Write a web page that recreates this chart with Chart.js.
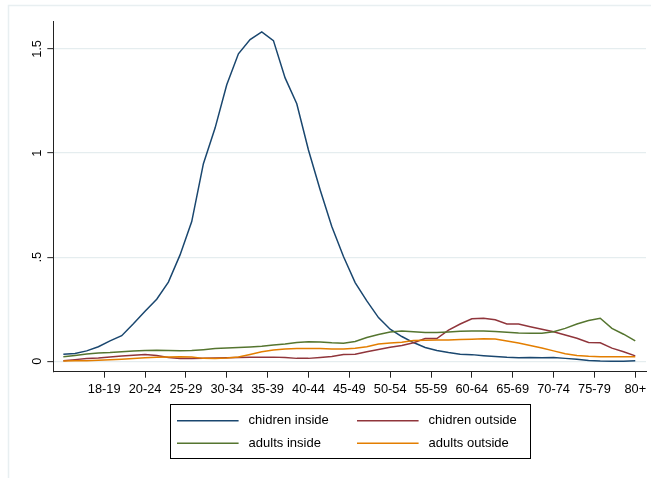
<!DOCTYPE html>
<html>
<head>
<meta charset="utf-8">
<script src="https://cdn.jsdelivr.net/npm/chart.js@4.4.1/dist/chart.umd.min.js"></script>
<style>
  html, body { margin: 0; padding: 0; background: #fff; }
  canvas { display: block; }
</style>
</head>
<body>
<canvas id="chart" width="651" height="478"></canvas>
<script>
// Age-group tick labels and where each group sits on the 0..49 index axis
const ageGroups = ['18-19','20-24','25-29','30-34','35-39','40-44','45-49','50-54','55-59','60-64','65-69','70-74','75-79','80+'];
const groupPositions = [3.5, 7, 10.5, 14, 17.5, 21, 24.5, 28, 31.5, 35, 38.5, 42, 45.5, 49];
const yTickValues = [0, 0.5, 1, 1.5];

const seriesNames = ['chidren inside', 'chidren outside', 'adults inside', 'adults outside'];

const childrenInside = [0.034, 0.037, 0.050, 0.070, 0.098, 0.123, 0.180, 0.240, 0.298, 0.380,
  0.511, 0.671, 0.949, 1.120, 1.328, 1.477, 1.545, 1.582, 1.540, 1.361,
  1.237, 1.015, 0.824, 0.647, 0.503, 0.378, 0.290, 0.210, 0.154, 0.119,
  0.090, 0.066, 0.052, 0.042, 0.034, 0.032, 0.027, 0.023, 0.019, 0.017,
  0.018, 0.017, 0.018, 0.014, 0.010, 0.004, 0.001, 0.000, 0.000, 0.002];

const childrenOutside = [0.003, 0.008, 0.013, 0.016, 0.021, 0.025, 0.029, 0.033, 0.028, 0.018,
  0.013, 0.013, 0.014, 0.016, 0.017, 0.018, 0.019, 0.020, 0.020, 0.018,
  0.014, 0.014, 0.018, 0.023, 0.033, 0.034, 0.046, 0.057, 0.067, 0.076,
  0.089, 0.109, 0.109, 0.150, 0.179, 0.204, 0.207, 0.199, 0.179, 0.179,
  0.166, 0.154, 0.142, 0.126, 0.111, 0.090, 0.089, 0.063, 0.046, 0.026];

const adultsInside = [0.022, 0.028, 0.035, 0.040, 0.042, 0.046, 0.050, 0.052, 0.053, 0.052,
  0.051, 0.052, 0.056, 0.061, 0.064, 0.066, 0.069, 0.072, 0.078, 0.083,
  0.090, 0.094, 0.093, 0.089, 0.087, 0.095, 0.114, 0.129, 0.141, 0.146,
  0.142, 0.138, 0.138, 0.141, 0.144, 0.146, 0.145, 0.143, 0.139, 0.136,
  0.135, 0.135, 0.142, 0.158, 0.179, 0.196, 0.207, 0.158, 0.130, 0.098];

const adultsOutside = [0.001, 0.002, 0.003, 0.005, 0.007, 0.010, 0.013, 0.017, 0.019, 0.021,
  0.022, 0.021, 0.014, 0.013, 0.016, 0.021, 0.033, 0.046, 0.054, 0.059,
  0.061, 0.062, 0.062, 0.059, 0.059, 0.063, 0.070, 0.083, 0.088, 0.091,
  0.100, 0.101, 0.102, 0.102, 0.105, 0.106, 0.108, 0.107, 0.098, 0.088,
  0.076, 0.064, 0.050, 0.036, 0.028, 0.024, 0.022, 0.022, 0.022, 0.022];

const seriesValues = [childrenInside, childrenOutside, adultsInside, adultsOutside];
const seriesColors = ['#1a476f', '#90353b', '#55752f', '#e37e00'];

const FONT = '"Liberation Sans", Arial, Helvetica, sans-serif';
Chart.defaults.font.family = FONT;
Chart.defaults.color = '#000';

const fmtTick = v => String(v).replace(/^0\./, '.');

// Outer frame, rotated y labels and the boxed two-column legend
const stataDecor = {
  id: 'stataDecor',
  beforeDraw(chart) {
    const ctx = chart.ctx;
    ctx.save();
    ctx.strokeStyle = '#e8eff1';
    ctx.lineWidth = 1.5;
    ctx.beginPath();
    ctx.moveTo(8.5, 478);
    ctx.lineTo(8.5, 5.5);
    ctx.lineTo(651, 5.5);
    ctx.stroke();
    ctx.restore();
  },
  afterDraw(chart) {
    const ctx = chart.ctx;
    const ys = chart.scales.y;
    const area = chart.chartArea;
    ctx.save();
    ctx.fillStyle = '#000';
    ctx.font = '12.8px ' + FONT;
    ctx.textAlign = 'center';
    ctx.textBaseline = 'alphabetic';
    ys.ticks.forEach(t => {
      const py = ys.getPixelForValue(t.value);
      ctx.save();
      ctx.translate(area.left - 12, py);
      ctx.rotate(-Math.PI / 2);
      ctx.fillText(fmtTick(t.value), 0, 0);
      ctx.restore();
    });

    // legend
    const boxW = 360, boxH = 54, boxTop = 404.5;
    const boxLeft = Math.round((area.left + area.right) / 2 - boxW / 2) + 0.5;
    ctx.strokeStyle = '#000';
    ctx.lineWidth = 1;
    ctx.strokeRect(boxLeft, boxTop, boxW, boxH);
    ctx.font = '13px ' + FONT;
    ctx.textAlign = 'left';
    ctx.textBaseline = 'middle';
    chart.data.datasets.forEach((ds, i) => {
      const col = i % 2, row = Math.floor(i / 2);
      const x0 = boxLeft + 6.5 + col * 180;
      const yy = 420.7 + row * 22.6;
      ctx.strokeStyle = ds.borderColor;
      ctx.lineWidth = 1.5;
      ctx.beginPath();
      ctx.moveTo(x0, yy);
      ctx.lineTo(x0 + 61.6, yy);
      ctx.stroke();
      ctx.fillStyle = '#000';
      ctx.fillText(ds.label, x0 + 71.6, yy);
    });
    ctx.restore();
  }
};

const datasets = seriesNames.map((name, i) => ({
  label: name,
  data: seriesValues[i].map((v, k) => ({ x: k, y: v })),
  borderColor: seriesColors[i],
  backgroundColor: seriesColors[i],
  borderWidth: 1.5,
  pointRadius: 0,
  tension: 0,
  fill: false,
  order: seriesNames.length - 1 - i
}));

new Chart(document.getElementById('chart'), {
  type: 'line',
  data: { datasets },
  plugins: [stataDecor],
  options: {
    responsive: false,
    animation: false,
    events: [],
    layout: { padding: { left: 0, top: 21.7, right: 5, bottom: 0 } },
    plugins: { legend: { display: false }, tooltip: { enabled: false } },
    scales: {
      x: {
        type: 'linear',
        min: -0.86,
        max: 49.92,
        afterBuildTicks: s => { s.ticks = groupPositions.map(v => ({ value: v })); },
        afterFit: s => { s.height = 106.3; s.paddingLeft = 0; s.paddingRight = 0; },
        ticks: {
          autoSkip: false, maxRotation: 0, minRotation: 0, padding: 4,
          font: { size: 12.8 }, color: '#000',
          callback: (v, idx) => ageGroups[idx]
        },
        grid: { drawOnChartArea: false, drawTicks: true, tickLength: 6, tickColor: '#222', tickWidth: 1 },
        border: { display: true, color: '#222', width: 1 }
      },
      y: {
        type: 'linear',
        min: -0.05,
        max: 1.631,
        afterBuildTicks: s => { s.ticks = yTickValues.map(v => ({ value: v })); },
        afterFit: s => { s.width = 53.3; s.paddingTop = 0; s.paddingBottom = 0; },
        ticks: { display: false },
        grid: { color: '#e5edef', lineWidth: 1.3, drawTicks: true, tickLength: 6, tickColor: '#222', tickWidth: 1 },
        border: { display: true, color: '#222', width: 1 }
      }
    }
  }
});
</script>
</body>
</html>
